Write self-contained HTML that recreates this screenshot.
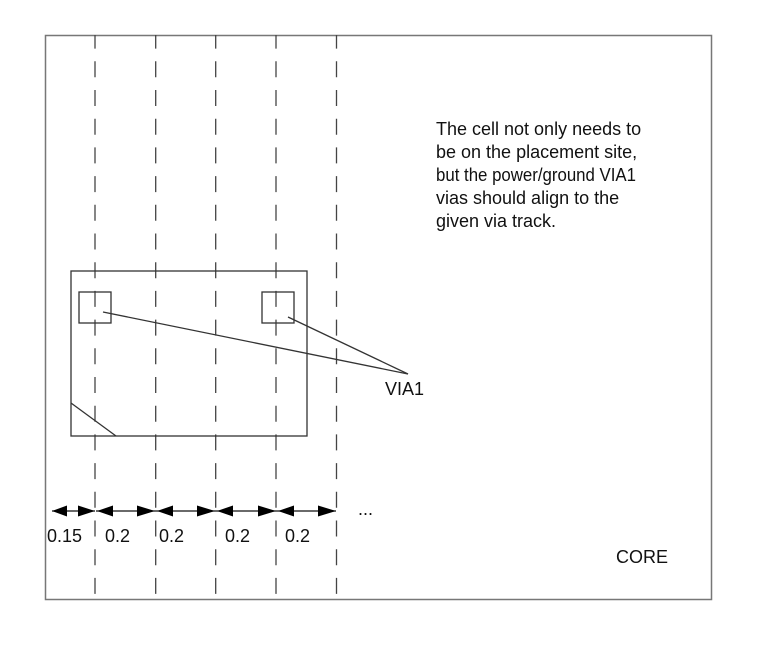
<!DOCTYPE html>
<html><head><style>
html,body{margin:0;padding:0;background:#fff;}
svg{display:block;}
text{font-family:"Liberation Sans",sans-serif;font-size:18px;fill:#111;}
</style></head><body>
<svg width="774" height="648" viewBox="0 0 774 648">
<rect x="45.5" y="35.5" width="666" height="564" fill="none" stroke="#777" stroke-width="1.5"/>
<g stroke="#444" stroke-width="1.3" stroke-dasharray="16 12.7" stroke-dashoffset="2.4">
<line x1="95" y1="35" x2="95" y2="599"/>
<line x1="155.7" y1="35" x2="155.7" y2="599"/>
<line x1="215.7" y1="35" x2="215.7" y2="599"/>
<line x1="276" y1="35" x2="276" y2="599"/>
<line x1="336.5" y1="35" x2="336.5" y2="599"/>
</g>
<g fill="none" stroke="#333" stroke-width="1.3">
<rect x="71" y="271" width="236" height="165"/>
<rect x="79" y="292" width="32" height="31"/>
<rect x="262" y="292" width="32" height="31"/>
<line x1="103" y1="312" x2="408" y2="374"/>
<line x1="288" y1="317" x2="408" y2="374"/>
<line x1="71" y1="403" x2="116" y2="436"/>
</g>
<g stroke="#111" stroke-width="1.2">
<line x1="52" y1="511" x2="95" y2="511"/>
<line x1="96" y1="511" x2="336" y2="511"/>
</g>
<g fill="#000">
<polygon points="52,511 67,505.5 67,516.5"/>
<polygon points="95,511 78,505.5 78,516.5"/>
<polygon points="97,511 113,505.5 113,516.5"/>
<polygon points="155,511 137,505.5 137,516.5"/>
<polygon points="157,511 173,505.5 173,516.5"/>
<polygon points="215,511 197,505.5 197,516.5"/>
<polygon points="217,511 233,505.5 233,516.5"/>
<polygon points="276,511 258,505.5 258,516.5"/>
<polygon points="278,511 294,505.5 294,516.5"/>
<polygon points="336,511 318,505.5 318,516.5"/>
</g>
<text x="47" y="542">0.15</text>
<text x="105" y="542">0.2</text>
<text x="159" y="542">0.2</text>
<text x="225" y="542">0.2</text>
<text x="285" y="542">0.2</text>
<text x="358" y="515">...</text>
<text x="385" y="395">VIA1</text>
<text x="616" y="563">CORE</text>
<text x="436" y="135">The cell not only needs to</text>
<text x="436" y="158">be on the placement site,</text>
<text x="436" y="181" textLength="200" lengthAdjust="spacingAndGlyphs">but the power/ground VIA1</text>
<text x="436" y="204">vias should align to the</text>
<text x="436" y="227">given via track.</text>
</svg>
</body></html>
